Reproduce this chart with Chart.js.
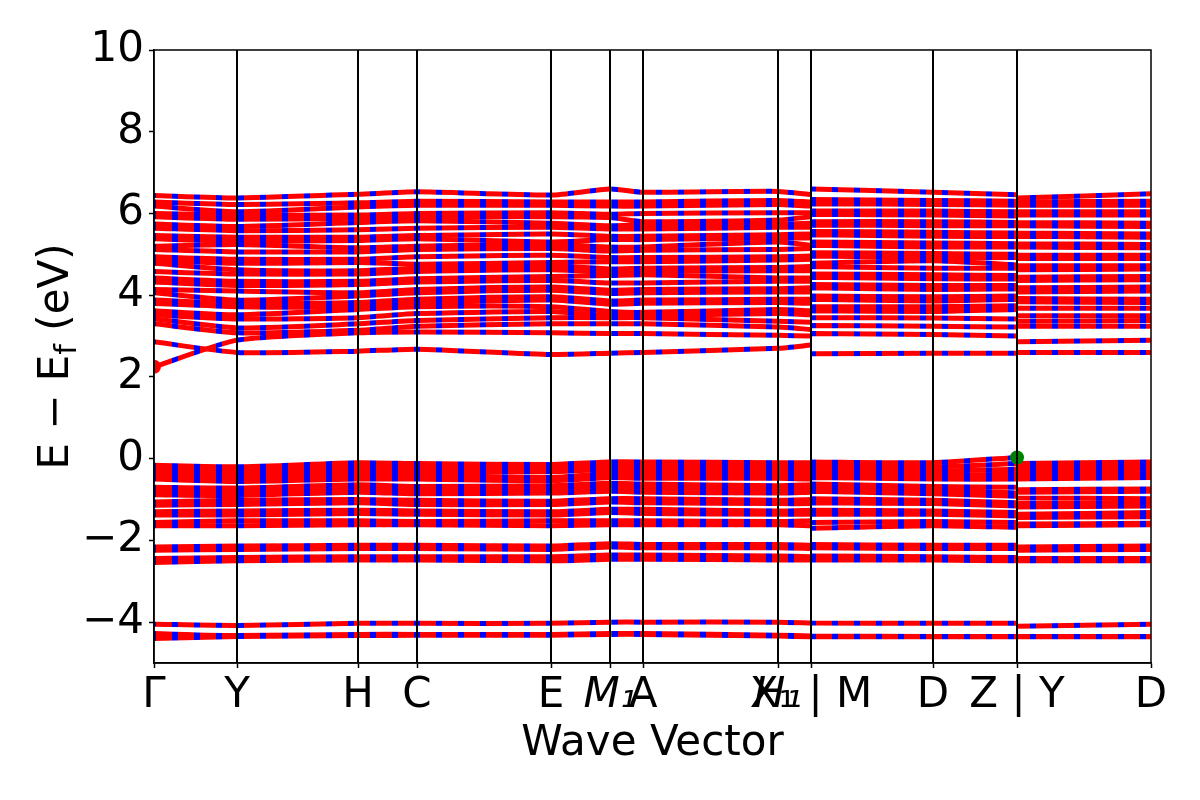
<!DOCTYPE html>
<html lang="en">
<head>
    <meta charset="UTF-8">
    <title>Band structure</title>
    <script src="https://cdn.jsdelivr.net/npm/chart.js"></script>
    <style>
        body { margin: 0; background: #fff; }
    </style>
</head>
<body>
    <canvas id="bands" width="1200" height="800"></canvas>

    <script>
        // high symmetry points along the path (distance units)
        const kTicks = [0, 83, 204, 263, 397, 456, 489, 624, 657, 779, 863, 997];
        const kLabels = ['Γ', 'Y', 'H', 'C', 'E', 'M₁', 'A', 'H₁', 'X₁ | M', 'D', 'Z | Y', 'D'];
        // nodes where band energies are read: Γ Y H C E M1 A H1 X1 | M D Z | Y D
        const kNodes = [0, 83, 204, 263, 397, 456, 489, 624, 657, 657, 779, 863, 863, 997];
        const yTicks = [-4, -2, 0, 2, 4, 6, 8, 10];

        // lowest conduction bands
        const c1 = [2.25, 2.9, 3.08, 3.1, 3.08, 3.06, 3.06, 3.02, 3.0, 3.06, 3.04, 3.0, 2.86, 2.9];
        const c2 = [2.86, 2.6, 2.63, 2.68, 2.55, 2.58, 2.6, 2.7, 2.78, 2.57, 2.58, 2.58, 2.6, 2.6];
        const c3 = [3.3, 3.08, 3.14, 3.24, 3.3, 3.3, 3.3, 3.22, 3.16, 3.26, 3.24, 3.22, 3.24, 3.24];
        const c4 = [3.42, 3.2, 3.3, 3.38, 3.45, 3.45, 3.45, 3.36, 3.34, 3.45, 3.44, 3.42, 3.36, 3.38];

        // dense conduction manifold
        const d1 = [3.52, 3.42, 3.45, 3.55, 3.6, 3.5, 3.5, 3.55, 3.52, 3.62, 3.6, 3.65, 3.5, 3.5];
        const d2 = [3.62, 3.52, 3.65, 3.72, 3.72, 3.6, 3.58, 3.65, 3.62, 3.72, 3.72, 3.74, 3.68, 3.68];
        const d3 = [3.8, 3.72, 3.72, 3.8, 3.88, 3.78, 3.8, 3.82, 3.8, 3.9, 3.86, 3.9, 3.84, 3.82];
        const d4 = [3.88, 3.8, 3.82, 3.9, 3.96, 3.86, 3.88, 3.9, 3.9, 3.98, 3.96, 3.98, 3.92, 3.9];
        const d5 = [4.06, 3.88, 3.98, 4.06, 4.12, 4.04, 4.06, 4.08, 4.08, 4.18, 4.14, 4.16, 4.08, 4.1];
        const d6 = [4.14, 4.1, 4.06, 4.14, 4.2, 4.12, 4.14, 4.16, 4.18, 4.26, 4.24, 4.24, 4.18, 4.2];
        const d7 = [4.32, 4.24, 4.26, 4.32, 4.36, 4.3, 4.3, 4.34, 4.34, 4.44, 4.4, 4.4, 4.36, 4.38];
        const d8 = [4.42, 4.34, 4.34, 4.4, 4.46, 4.48, 4.5, 4.42, 4.42, 4.52, 4.5, 4.48, 4.44, 4.46];
        const d9 = [4.58, 4.52, 4.52, 4.58, 4.62, 4.56, 4.58, 4.6, 4.6, 4.7, 4.66, 4.66, 4.62, 4.64];
        const d10 = [4.78, 4.62, 4.6, 4.66, 4.72, 4.64, 4.66, 4.68, 4.7, 4.78, 4.84, 4.74, 4.72, 4.72];
        const d11 = [4.86, 4.78, 4.8, 4.76, 4.8, 4.82, 4.82, 4.86, 4.88, 4.96, 4.92, 4.92, 4.9, 4.9];
        const d12 = [4.94, 4.88, 4.88, 4.94, 4.98, 4.92, 4.92, 4.94, 4.96, 5.04, 5.02, 5.0, 4.98, 4.98];
        const d13 = [5.12, 5.06, 5.06, 5.12, 5.14, 5.08, 5.1, 5.12, 5.14, 5.22, 5.18, 5.18, 5.18, 5.16];
        const d14 = [5.2, 5.24, 5.16, 5.2, 5.24, 5.18, 5.18, 5.3, 5.22, 5.3, 5.28, 5.26, 5.26, 5.24];
        const d15 = [5.38, 5.32, 5.34, 5.38, 5.3, 5.36, 5.36, 5.4, 5.4, 5.48, 5.44, 5.44, 5.44, 5.42];
        const d16 = [5.46, 5.42, 5.42, 5.46, 5.5, 5.44, 5.44, 5.48, 5.5, 5.56, 5.54, 5.52, 5.52, 5.5];
        const d17 = [5.64, 5.58, 5.6, 5.64, 5.66, 5.62, 5.62, 5.66, 5.66, 5.72, 5.7, 5.7, 5.7, 5.68];
        const d18 = [5.74, 5.68, 5.78, 5.82, 5.76, 5.7, 5.72, 5.74, 5.76, 5.8, 5.8, 5.78, 5.78, 5.76];
        const d19 = [5.92, 5.86, 5.88, 5.92, 5.92, 5.9, 5.8, 5.84, 5.92, 5.98, 5.96, 5.94, 5.96, 5.96];
        const d20 = [6.0, 5.96, 5.96, 6.0, 6.02, 5.98, 6.0, 6.02, 6.02, 6.06, 6.06, 6.04, 6.04, 6.04];
        const d21 = [6.18, 6.04, 6.16, 6.2, 6.2, 6.18, 6.18, 6.22, 6.18, 6.24, 6.22, 6.2, 6.2, 6.2];
        const d22 = [6.28, 6.22, 6.26, 6.3, 6.28, 6.28, 6.28, 6.32, 6.28, 6.34, 6.32, 6.3, 6.28, 6.3];
        const d23 = [6.44, 6.38, 6.47, 6.53, 6.45, 6.6, 6.52, 6.54, 6.46, 6.6, 6.52, 6.46, 6.38, 6.48];

        // top valence manifold
        const v1 = [-0.16, -0.2, -0.1, -0.12, -0.14, -0.08, -0.08, -0.1, -0.1, -0.08, -0.1, 0.03, -0.12, -0.08];
        const v2 = [-0.24, -0.3, -0.2, -0.22, -0.22, -0.16, -0.18, -0.18, -0.2, -0.16, -0.2, -0.12, -0.2, -0.16];
        const v3 = [-0.34, -0.38, -0.3, -0.32, -0.32, -0.26, -0.28, -0.28, -0.3, -0.26, -0.3, -0.26, -0.3, -0.26];
        const v4 = [-0.42, -0.46, -0.4, -0.4, -0.46, -0.36, -0.38, -0.38, -0.4, -0.36, -0.4, -0.38, -0.4, -0.36];
        const v5 = [-0.5, -0.56, -0.5, -0.5, -0.54, -0.46, -0.48, -0.48, -0.5, -0.46, -0.5, -0.5, -0.5, -0.46];
        const v6 = [-0.7, -0.72, -0.64, -0.68, -0.66, -0.6, -0.62, -0.66, -0.64, -0.62, -0.68, -0.7, -0.76, -0.74];
        const v7 = [-0.78, -0.82, -0.74, -0.76, -0.76, -0.7, -0.72, -0.74, -0.72, -0.72, -0.76, -0.84, -0.82, -0.8];
        const v8 = [-0.88, -0.9, -0.82, -0.86, -0.84, -0.8, -0.82, -0.84, -0.82, -0.8, -0.86, -0.92, -0.96, -0.98];
        const v9 = [-1.06, -1.02, -1.0, -1.02, -1.04, -0.98, -0.98, -1.02, -1.0, -0.98, -1.02, -1.08, -1.1, -1.08];
        const v10 = [-1.14, -1.12, -1.08, -1.12, -1.12, -1.06, -1.08, -1.1, -1.1, -1.08, -1.1, -1.16, -1.18, -1.16];
        const v11 = [-1.3, -1.28, -1.26, -1.28, -1.3, -1.24, -1.24, -1.28, -1.26, -1.26, -1.28, -1.32, -1.36, -1.32];
        const v12 = [-1.38, -1.38, -1.34, -1.36, -1.38, -1.32, -1.34, -1.36, -1.36, -1.36, -1.36, -1.4, -1.44, -1.42];
        const v13 = [-1.56, -1.52, -1.52, -1.54, -1.52, -1.52, -1.52, -1.54, -1.52, -1.56, -1.54, -1.56, -1.6, -1.58];
        const v14 = [-1.64, -1.64, -1.62, -1.62, -1.64, -1.62, -1.62, -1.62, -1.64, -1.7, -1.64, -1.68, -1.64, -1.62];

        // lower valence groups
        const g1 = [-2.16, -2.14, -2.12, -2.12, -2.14, -2.08, -2.1, -2.1, -2.12, -2.1, -2.12, -2.12, -2.16, -2.14];
        const g2 = [-2.24, -2.22, -2.2, -2.2, -2.22, -2.16, -2.18, -2.18, -2.2, -2.18, -2.2, -2.2, -2.24, -2.22];
        const g3 = [-2.44, -2.42, -2.4, -2.4, -2.4, -2.36, -2.36, -2.38, -2.4, -2.38, -2.4, -2.42, -2.44, -2.44];
        const g4 = [-2.54, -2.5, -2.48, -2.48, -2.5, -2.46, -2.46, -2.48, -2.48, -2.48, -2.48, -2.5, -2.5, -2.5];
        const h1 = [-4.05, -4.08, -4.03, -4.03, -4.03, -4.0, -4.0, -4.0, -4.02, -4.02, -4.03, -4.03, -4.1, -4.05];
        const h2 = [-4.28, -4.33, -4.3, -4.3, -4.3, -4.28, -4.28, -4.32, -4.34, -4.34, -4.35, -4.35, -4.35, -4.35];
        const h3 = [-4.4, -4.35, -4.33, -4.32, -4.32, -4.3, -4.3, -4.34, -4.36, -4.36, -4.36, -4.36, -4.36, -4.36];

        const cbm = [{x: 0, y: 2.25}];
        const vbm = [{x: 863, y: 0.03}];

        const allBands = [c1, c2, c3, c4,
            d1, d2, d3, d4, d5, d6, d7, d8, d9, d10, d11, d12, d13, d14, d15, d16, d17, d18, d19, d20, d21, d22, d23,
            v1, v2, v3, v4, v5, v6, v7, v8, v9, v10, v11, v12, v13, v14,
            g1, g2, g3, g4, h1, h2, h3];

        Chart.defaults.font.family = 'DejaVu Sans';
        Chart.defaults.color = '#000';

        // red line with blue stripes every 22px
        function stripePattern() {
            const c = document.createElement('canvas');
            c.width = 22; c.height = 4;
            const g = c.getContext('2d');
            g.fillStyle = '#ff0000';
            g.fillRect(0, 0, 22, 4);
            g.fillStyle = '#0000ff';
            g.fillRect(0, 0, 6, 4);
            const p = g.createPattern(c, 'repeat');
            p.setTransform(new DOMMatrix().translate(18, 0));
            return p;
        }
        const stripes = stripePattern();

        // path breaks at X1|M and Z|Y
        function toPoints(vals) {
            const pts = [];
            vals.forEach((v, i) => {
                if (i === 9 || i === 12) pts.push({x: kNodes[i], y: null});
                pts.push({x: kNodes[i], y: v});
            });
            return pts;
        }

        const datasets = [
            {type: 'scatter', data: vbm, pointRadius: 7, pointBackgroundColor: 'green', pointBorderWidth: 0},
            {type: 'scatter', data: cbm, pointRadius: 7, pointBackgroundColor: 'red', pointBorderWidth: 0}
        ];
        allBands.forEach(b => {
            datasets.push({
                data: toPoints(b),
                borderColor: stripes,
                borderWidth: 5,
                pointRadius: 0,
                spanGaps: false,
                tension: 0.2,
                borderCapStyle: 'butt'
            });
        });

        const frame = {
            id: 'frame',
            afterDatasetsDraw(chart) {
                const {ctx, chartArea: a, scales: {x}} = chart;
                ctx.save();
                ctx.strokeStyle = '#000';
                ctx.lineWidth = 2;
                kTicks.slice(1, -1).forEach(k => {
                    const px = x.getPixelForValue(k);
                    ctx.beginPath();
                    ctx.moveTo(px, a.top);
                    ctx.lineTo(px, a.bottom);
                    ctx.stroke();
                });
                ctx.lineWidth = 1.5;
                ctx.strokeRect(a.left, a.top, a.right - a.left, a.bottom - a.top);
                ctx.restore();
            },
            afterDraw(chart) {
                // y title with subscript f
                const {ctx, chartArea: a} = chart;
                ctx.save();
                ctx.translate(68, (a.top + a.bottom) / 2);
                ctx.rotate(-Math.PI / 2);
                ctx.fillStyle = '#000';
                ctx.textBaseline = 'alphabetic';
                const big = '42px "DejaVu Sans"', small = '30px "DejaVu Sans"';
                ctx.font = big;
                const w1 = ctx.measureText('E − E').width;
                const w3 = ctx.measureText(' (eV)').width;
                ctx.font = small;
                const w2 = ctx.measureText('f').width;
                let xs = -(w1 + w2 + w3) / 2;
                ctx.font = big;
                ctx.fillText('E − E', xs, 0);
                ctx.font = small;
                ctx.fillText('f', xs + w1, 8);
                ctx.font = big;
                ctx.fillText(' (eV)', xs + w1 + w2, 0);
                ctx.restore();
            }
        };

        new Chart(document.getElementById('bands'), {
            type: 'line',
            data: {datasets: datasets},
            options: {
                responsive: false,
                animation: false,
                layout: {padding: {top: 50, right: 49, left: 0, bottom: 0}},
                plugins: {
                    legend: {display: false},
                    tooltip: {enabled: false}
                },
                scales: {
                    x: {
                        type: 'linear',
                        min: 0,
                        max: 997,
                        afterFit: s => { s.height = 137; },
                        afterBuildTicks: s => { s.ticks = kTicks.map(v => ({value: v})); },
                        ticks: {
                            autoSkip: false,
                            maxRotation: 0,
                            padding: 3,
                            font: ctx => ({size: 42, style: (ctx.index === 5 || ctx.index === 7) ? 'italic' : 'normal'}),
                            callback: (v, i) => kLabels[i]
                        },
                        grid: {drawOnChartArea: false, tickLength: 5, tickColor: '#000', tickWidth: 1.5},
                        border: {display: true, color: '#000', width: 1.5},
                        title: {display: true, text: 'Wave Vector', font: {size: 42}, padding: {top: 0, bottom: 31}}
                    },
                    y: {
                        min: -5,
                        max: 10,
                        afterFit: s => { s.width = 154; },
                        afterBuildTicks: s => { s.ticks = yTicks.map(v => ({value: v})); },
                        ticks: {
                            padding: 5,
                            font: {size: 42},
                            callback: v => (v < 0 ? '−' + Math.abs(v) : String(v))
                        },
                        grid: {drawOnChartArea: false, tickLength: 5, tickColor: '#000', tickWidth: 1.5},
                        border: {display: true, color: '#000', width: 1.5}
                    }
                }
            },
            plugins: [frame]
        });
    </script>
</body>
</html>
